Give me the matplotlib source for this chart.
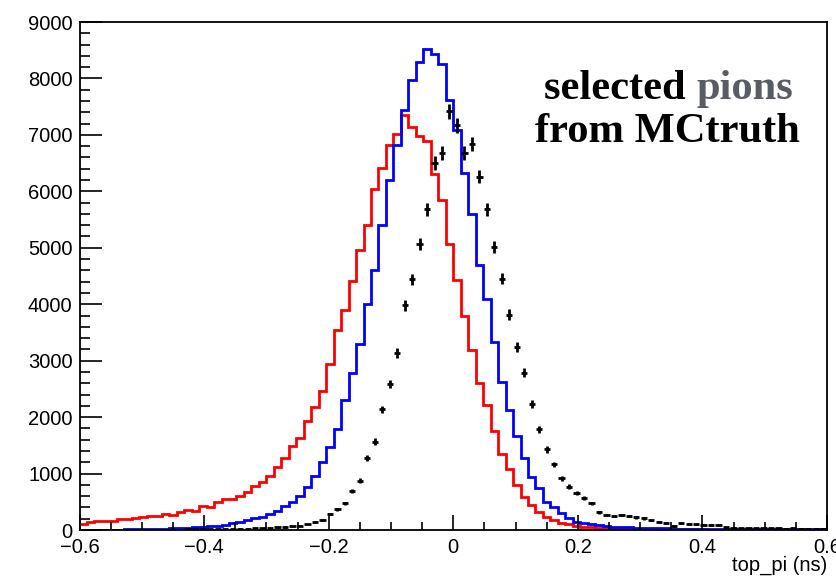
import numpy as np
import matplotlib.pyplot as plt
from matplotlib.ticker import MultipleLocator

# 100 bins from -0.6 to 0.6 ns
edges = np.linspace(-0.6, 0.6, 101)
centers = 0.5 * (edges[:-1] + edges[1:])

red = np.array([
    106, 147, 155, 165, 165, 189, 195, 206, 224, 248,
    250, 283, 265, 324, 354, 336, 425, 401, 500, 550,
    543, 610, 678, 779, 850, 956, 1109, 1269, 1480, 1630,
    1935, 2171, 2466, 2933, 3540, 3894, 4413, 4968, 5410, 6048,
    6419, 6814, 7009, 7345, 7140, 6973, 6890, 6313, 5840, 5062,
    4425, 3788, 3198, 2608, 2212, 1752, 1339, 1073, 796, 590,
    442, 324, 236, 177, 130, 106, 77, 59, 50, 42,
    36, 30, 27, 24, 21, 19, 17, 15, 14, 13,
    12, 11, 10, 10, 9, 9, 8, 8, 7, 7,
    6, 6, 6, 5, 5, 5, 4, 4, 4, 3])

blue = np.array([
    3, 4, 5, 5, 6, 8, 10, 12, 15, 18,
    20, 25, 30, 35, 40, 45, 55, 65, 80, 95,
    118, 147, 177, 206, 236, 283, 342, 425, 501, 602,
    755, 956, 1197, 1463, 1782, 2301, 2773, 3292, 4012, 4614,
    5398, 6195, 6814, 7434, 7965, 8290, 8525, 8425, 8248, 7610,
    7080, 6324, 5590, 4702, 4088, 3333, 2625, 2124, 1664, 1269,
    944, 738, 501, 413, 295, 206, 147, 118, 100, 88,
    70, 59, 50, 45, 40, 36, 33, 30, 28, 26,
    25, 24, 22, 21, 20, 19, 18, 17, 16, 16,
    15, 14, 14, 13, 12, 12, 11, 11, 10, 10])

black = np.array([
    2, 2, 3, 3, 3, 4, 4, 5, 5, 6,
    6, 7, 8, 9, 10, 11, 12, 14, 16, 18,
    20, 23, 26, 30, 34, 40, 47, 55, 65, 80,
    100, 136, 177, 283, 366, 472, 690, 873, 1269, 1563,
    2136, 2584, 3138, 3982, 4442, 5074, 5681, 6501, 6678, 7416,
    7168, 6680, 6830, 6260, 5681, 5015, 4454, 3817, 3245, 2785,
    2224, 1782, 1428, 1162, 915, 767, 661, 572, 472, 313,
    265, 248, 265, 248, 224, 206, 180, 150, 120, 75,
    130, 110, 100, 95, 88, 85, 50, 40, 35, 35,
    30, 30, 28, 30, 25, 28, 25, 25, 22, 20])

plt.rcParams['font.family'] = ['Liberation Sans', 'DejaVu Sans']

fig = plt.figure(figsize=(8.37, 5.79), dpi=100)
ax = fig.add_axes([0.095, 0.0846, 0.893, 0.8774])

ax.stairs(red, edges, color='#ff0000', lw=2.0, baseline=None)
ax.stairs(blue, edges, color='#0000ff', lw=2.0, baseline=None)

bw = edges[1] - edges[0]
ax.errorbar(centers, black, xerr=0.42 * bw, yerr=1.5 * np.sqrt(black),
            fmt='none', ecolor='black', elinewidth=2.0, capsize=0)

ax.set_xlim(-0.6, 0.6)
ax.set_ylim(0, 9000)

ax.xaxis.set_major_locator(MultipleLocator(0.2))
ax.xaxis.set_minor_locator(MultipleLocator(0.05))
ax.yaxis.set_major_locator(MultipleLocator(1000))
ax.yaxis.set_minor_locator(MultipleLocator(200))
ax.xaxis.set_major_formatter(plt.FuncFormatter(
    lambda v, p: '0' if abs(v) < 1e-9 else ('%.1f' % v).replace('-', '\u2212')))

ax.tick_params(axis='x', which='major', direction='in', length=11, width=1.2,
               labelsize=14.5, pad=6)
ax.tick_params(axis='x', which='minor', direction='in', length=5.5, width=1.2)
ax.tick_params(axis='y', which='major', direction='in', length=16, width=1.2,
               labelsize=14.5, pad=5)
ax.tick_params(axis='y', which='minor', direction='in', length=7.5, width=1.2)

for s in ax.spines.values():
    s.set_linewidth(1.3)

ax.text(1.0, -0.069, 'top_pi (ns)', transform=ax.transAxes,
        ha='right', va='center', fontsize=14.5)

# label in the upper right corner
ax.text(0.8255, 0.848, 'selected ', transform=ax.transAxes, ha='right',
        va='baseline', fontsize=30.6, fontweight='bold', family='Liberation Serif')
ax.text(0.8255, 0.848, 'pions', transform=ax.transAxes, ha='left',
        va='baseline', fontsize=30.6, fontweight='bold', family='Liberation Serif',
        color='#585d64')
ax.text(0.787, 0.764, 'from MCtruth', transform=ax.transAxes, ha='center',
        va='baseline', fontsize=30.6, fontweight='bold', family='Liberation Serif')

fig.savefig('out.png', dpi=100)
